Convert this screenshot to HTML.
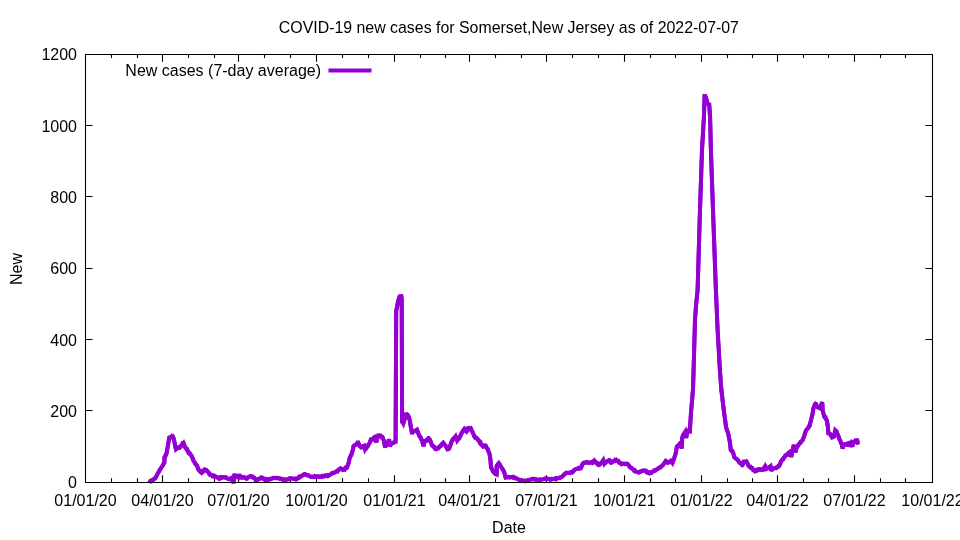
<!DOCTYPE html>
<html><head><meta charset="utf-8"><style>
html,body{margin:0;padding:0;background:#fff;width:960px;height:540px;overflow:hidden}
svg{display:block;will-change:transform}
text{font-family:"Liberation Sans",sans-serif;font-size:16px;fill:#000}
</style></head><body>
<svg width="960" height="540" viewBox="0 0 960 540">
<rect width="960" height="540" fill="#fff"/>
<path d="M86 410.5h6.5M932 410.5h-6.5M86 339.5h6.5M932 339.5h-6.5M86 268.5h6.5M932 268.5h-6.5M86 196.5h6.5M932 196.5h-6.5M86 125.5h6.5M932 125.5h-6.5M162.5 482V475.3M162.5 55V61.7M238.5 482V475.3M238.5 55V61.7M316.5 482V475.3M316.5 55V61.7M394.5 482V475.3M394.5 55V61.7M469.5 482V475.3M469.5 55V61.7M546.5 482V475.3M546.5 55V61.7M624.5 482V475.3M624.5 55V61.7M701.5 482V475.3M701.5 55V61.7M777.5 482V475.3M777.5 55V61.7M854.5 482V475.3M854.5 55V61.7M111.5 482V478.2M111.5 55V57.9M137.5 482V478.2M137.5 55V57.9M188.5 482V478.2M188.5 55V57.9M214.5 482V478.2M214.5 55V57.9M264.5 482V478.2M264.5 55V57.9M290.5 482V478.2M290.5 55V57.9M342.5 482V478.2M342.5 55V57.9M368.5 482V478.2M368.5 55V57.9M420.5 482V478.2M420.5 55V57.9M445.5 482V478.2M445.5 55V57.9M495.5 482V478.2M495.5 55V57.9M521.5 482V478.2M521.5 55V57.9M572.5 482V478.2M572.5 55V57.9M598.5 482V478.2M598.5 55V57.9M650.5 482V478.2M650.5 55V57.9M675.5 482V478.2M675.5 55V57.9M727.5 482V478.2M727.5 55V57.9M752.5 482V478.2M752.5 55V57.9M803.5 482V478.2M803.5 55V57.9M828.5 482V478.2M828.5 55V57.9M880.5 482V478.2M880.5 55V57.9M905.5 482V478.2M905.5 55V57.9" stroke="#000" stroke-width="1.1" fill="none"/>
<path d="M149.2,482.6 151.0,480.6 153.7,479.4 155.5,478.0 156.8,475.3 158.6,472.2 160.4,469.1 162.6,465.6 164.4,462.4 164.5,457.5 166.5,453.5 167.5,448.0 168.5,442.0 169.3,437.6 171.0,437.1 172.7,436.4 174.0,439.5 175.0,445.0 176.0,449.5 178.5,447.5 181.0,446.0 183.5,443.0 185.0,447.0 187.0,449.0 188.0,452.0 190.5,454.5 192.0,457.0 194.0,461.5 196.0,464.5 197.1,466.0 198.6,469.7 201.6,472.7 203.4,470.4 205.3,469.7 207.9,471.6 210.1,474.9 213.0,475.6 216.0,476.7 219.0,478.6 221.9,477.1 224.9,477.1 227.9,478.6 230.8,479.5 232.2,476.5 233.6,483.3 234.4,475.5 236.5,475.8 238.4,477.2 239.3,474.2 240.3,477.6 243.4,477.1 246.4,478.6 249.3,476.7 250.8,476.0 253.8,477.9 255.8,479.8 256.4,482.2 257.2,479.5 259.0,479.0 261.6,477.5 265.0,479.3 268.7,479.7 271.6,478.6 274.6,477.9 278.3,478.2 282.0,479.3 285.7,479.7 287.9,479.3 290.1,478.2 293.1,478.6 296.1,479.3 298.3,477.9 300.5,476.4 302.7,475.3 305.0,474.1 307.2,475.3 310.1,476.4 313.9,476.7 317.6,476.7 321.3,476.4 325.0,476.0 328.7,475.6 330.9,474.2 334.7,472.3 337.6,471.2 340.5,468.3 343.4,469.7 346.8,467.8 348.7,462.7 349.7,457.9 351.6,454.0 353.0,449.2 353.5,446.3 355.9,444.4 358.3,442.9 359.8,446.3 361.7,447.3 364.1,445.8 365.1,449.7 367.0,446.8 369.4,443.4 370.9,439.6 373.3,439.1 374.7,437.6 376.1,442.4 378.1,435.7 380.0,435.8 382.0,436.7 383.8,440.2 385.1,447.3 386.4,444.7 388.2,442.0 389.1,439.3 390.0,446.4 391.3,443.8 393.1,442.9 395.6,442.0 396.2,311.0 398.2,301.0 399.6,296.5 401.3,296.3 401.7,299.5 402.1,421.5 403.3,423.6 405.9,414.7 407.7,415.1 409.6,419.6 410.7,426.2 411.8,432.1 414.0,431.4 417.0,429.6 418.4,433.6 420.7,437.5 422.2,440.5 423.4,446.2 424.6,441.5 426.2,440.3 428.1,438.4 430.2,440.2 431.8,444.9 433.9,447.0 435.9,449.0 438.5,448.0 441.1,445.4 443.2,442.8 445.8,445.9 447.3,449.0 449.4,448.0 451.5,441.8 453.6,438.7 455.6,436.1 457.2,440.7 459.8,437.1 462.4,431.9 464.4,428.8 466.5,431.4 468.1,428.3 470.7,428.3 472.7,432.4 474.8,437.1 476.9,438.1 478.6,440.4 481.2,444.5 483.3,446.6 485.3,445.6 487.4,448.7 489.5,453.9 490.5,460.1 491.0,467.3 493.1,471.5 495.7,474.1 496.7,474.6 496.7,465.8 498.8,463.2 501.4,467.3 504.0,471.5 505.6,477.5 508.1,476.9 513.3,476.9 517.5,479.0 521.6,480.6 525.3,481.1 528.9,480.1 531.0,479.4 534.7,479.0 538.4,480.1 542.8,479.4 546.5,478.6 550.2,479.3 553.9,479.0 557.6,478.2 560.6,477.5 563.6,475.3 566.5,472.7 569.5,472.7 572.4,472.3 575.4,469.3 578.4,468.2 581.0,467.9 582.8,463.8 585.8,462.3 589.5,462.7 592.4,462.7 594.3,460.4 595.4,461.9 596.2,463.0 599.2,464.8 601.4,462.9 603.3,460.0 604.4,464.0 606.6,461.8 609.6,460.3 611.0,462.6 613.3,461.4 616.2,460.0 617.7,461.1 619.9,462.9 622.1,463.8 625.1,464.1 627.7,464.1 630.3,467.5 633.3,469.7 636.2,471.6 639.2,472.3 642.1,470.8 645.1,470.8 648.1,472.7 651.0,473.0 654.0,470.4 657.7,469.0 660.7,467.1 664.0,463.6 665.8,460.9 668.0,462.7 670.7,460.9 672.4,463.1 674.2,458.2 675.6,453.8 676.9,446.7 678.7,445.3 680.4,443.1 681.8,448.4 682.2,437.8 683.1,435.1 685.3,431.6 686.2,437.8 687.6,430.7 689.3,429.8 689.8,433.3 690.2,425.0 691.0,412.7 693.0,389.3 693.6,370.0 695.0,319.6 696.1,304.8 697.6,290.0 700.0,210.0 702.0,150.0 703.9,117.4 704.6,96.0 705.2,96.0 706.4,99.2 707.5,104.0 709.2,104.5 710.1,117.4 710.9,150.0 713.0,210.0 715.9,290.0 717.6,330.0 719.9,370.0 721.3,389.3 723.7,409.5 725.1,420.0 726.1,427.3 728.2,433.5 729.8,441.8 730.8,450.1 732.9,452.1 734.4,457.3 737.6,459.9 740.1,463.0 742.7,464.6 743.8,461.5 746.4,461.5 748.4,465.6 751.6,468.2 755.2,471.3 758.3,469.3 761.4,469.8 763.5,469.5 765.2,466.2 766.5,469.0 768.5,468.0 770.6,466.2 771.3,471.0 772.5,468.5 775.5,468.0 777.5,467.0 779.5,465.5 781.0,461.5 782.5,459.5 784.5,457.0 787.0,454.5 789.0,452.5 790.7,451.3 791.2,457.0 793.8,444.9 795.3,452.1 796.9,447.0 800.0,443.3 802.6,440.2 804.1,436.4 806.1,430.2 809.3,426.6 810.8,420.9 812.4,414.7 813.4,408.4 815.5,404.3 817.6,406.9 820.1,408.4 822.2,402.2 822.7,410.5 824.3,416.7 826.9,420.4 827.9,427.1 828.4,433.3 830.0,433.9 832.1,437.5 834.1,436.4 835.2,430.2 836.0,431.0 837.4,433.8 838.9,437.6 840.3,441.0 841.8,443.9 842.5,448.5 843.7,444.9 845.6,444.4 847.6,443.4 848.1,446.5 849.0,444.4 850.9,442.4 852.4,446.8 852.9,442.4 854.8,441.5 855.5,440.5 857.2,440.5 858.0,444.5" fill="none" stroke="#9400d3" stroke-width="4" stroke-linejoin="miter" stroke-miterlimit="3"/><path d="M149.2,482.6 149.8,481.8 150.4,480.7 151.0,480.6 151.7,480.7 152.4,479.8 153.0,479.5 153.7,479.4 154.3,478.6 154.9,478.5 155.5,478.0 156.2,476.2 156.8,475.3 157.4,473.8 158.0,473.1 158.6,472.2 159.2,471.3 159.8,469.7 160.4,469.1 161.1,468.0 161.9,466.6 162.6,465.6 163.2,465.2 163.8,462.8 164.4,462.4 164.5,457.5 165.2,457.0 165.8,454.7 166.5,453.5 167.5,448.0 168.5,442.0 169.3,437.6 169.9,437.4 170.4,436.5 171.0,437.1 171.6,437.3 172.1,436.1 172.7,436.4 173.3,437.6 174.0,439.5 175.0,445.0 176.0,449.5 176.8,447.9 177.7,447.9 178.5,447.5 179.3,447.9 180.2,447.4 181.0,446.0 181.8,445.5 182.7,443.0 183.5,443.0 185.0,447.0 185.7,448.5 186.3,449.0 187.0,449.0 188.0,452.0 188.8,453.3 189.7,453.1 190.5,454.5 191.2,455.1 192.0,457.0 192.7,458.4 193.3,460.6 194.0,461.5 194.7,462.6 195.3,463.9 196.0,464.5 196.6,464.9 197.1,466.0 197.8,467.9 198.6,469.7 199.3,470.7 200.1,471.6 200.8,472.4 201.6,472.7 202.2,471.6 202.8,471.7 203.4,470.4 204.0,469.8 204.7,470.4 205.3,469.7 206.0,470.3 206.6,470.2 207.2,471.2 207.9,471.6 208.6,472.7 209.4,474.4 210.1,474.9 210.8,474.5 211.6,474.8 212.3,476.0 213.0,475.6 213.8,476.3 214.5,475.7 215.2,476.1 216.0,476.7 216.8,477.2 217.5,477.2 218.2,477.9 219.0,478.6 219.7,477.7 220.4,478.1 221.2,477.0 221.9,477.1 222.7,477.7 223.4,477.6 224.2,477.5 224.9,477.1 225.7,477.8 226.4,477.7 227.2,478.4 227.9,478.6 228.6,479.1 229.4,479.0 230.1,478.8 230.8,479.5 231.5,478.2 232.2,476.5 233.6,483.3 234.4,475.5 235.1,475.4 235.8,475.8 236.5,475.8 237.1,476.2 237.8,477.3 238.4,477.2 239.3,474.2 240.3,477.6 241.1,477.1 241.9,477.7 242.6,477.5 243.4,477.1 244.2,477.5 244.9,477.3 245.7,477.8 246.4,478.6 247.1,478.7 247.9,477.3 248.6,476.8 249.3,476.7 250.1,476.1 250.8,476.0 251.6,476.5 252.3,477.0 253.1,476.8 253.8,477.9 254.5,477.9 255.1,479.2 255.8,479.8 256.4,482.2 257.2,479.5 257.8,479.0 258.4,479.3 259.0,479.0 259.6,479.0 260.3,477.8 261.0,477.9 261.6,477.5 262.3,477.7 263.0,478.6 263.6,479.1 264.3,478.8 265.0,479.3 265.7,479.1 266.5,479.9 267.2,479.1 268.0,479.4 268.7,479.7 269.4,479.3 270.1,478.8 270.9,479.1 271.6,478.6 272.4,478.4 273.1,477.9 273.9,478.0 274.6,477.9 275.3,478.2 276.1,477.8 276.8,477.6 277.6,478.1 278.3,478.2 279.0,478.1 279.8,478.8 280.5,478.5 281.3,478.7 282.0,479.3 282.7,479.8 283.5,479.3 284.2,479.3 285.0,479.7 285.7,479.7 286.4,479.8 287.2,479.6 287.9,479.3 288.6,479.3 289.4,478.3 290.1,478.2 290.9,478.2 291.6,478.2 292.4,478.5 293.1,478.6 293.9,478.9 294.6,479.1 295.4,478.6 296.1,479.3 296.8,478.7 297.6,478.6 298.3,477.9 299.0,476.8 299.8,477.2 300.5,476.4 301.2,476.3 302.0,475.5 302.7,475.3 303.5,474.8 304.2,474.2 305.0,474.1 305.7,474.8 306.5,474.9 307.2,475.3 307.9,475.3 308.6,475.3 309.4,475.9 310.1,476.4 310.9,477.0 311.6,476.7 312.4,476.7 313.1,477.2 313.9,476.7 314.6,476.1 315.4,476.8 316.1,476.3 316.9,476.6 317.6,476.7 318.3,476.2 319.1,476.4 319.8,477.0 320.6,476.7 321.3,476.4 322.0,476.7 322.8,475.7 323.5,475.9 324.3,476.4 325.0,476.0 325.7,475.3 326.5,475.5 327.2,475.2 328.0,476.1 328.7,475.6 329.4,474.8 330.2,474.6 330.9,474.2 331.7,473.2 332.4,472.9 333.2,473.1 333.9,473.1 334.7,472.3 335.4,471.8 336.1,471.5 336.9,470.9 337.6,471.2 338.3,469.9 339.1,469.3 339.8,468.6 340.5,468.3 341.2,468.7 341.9,468.8 342.7,469.9 343.4,469.7 344.1,469.0 344.8,469.4 345.4,468.0 346.1,468.2 346.8,467.8 348.7,462.7 349.7,457.9 350.3,456.7 351.0,455.6 351.6,454.0 353.0,449.2 353.5,446.3 354.3,445.5 355.1,445.1 355.9,444.4 356.7,444.4 357.5,442.7 358.3,442.9 359.1,444.7 359.8,446.3 360.4,446.8 361.1,447.5 361.7,447.3 362.5,446.2 363.3,446.1 364.1,445.8 365.1,449.7 365.7,447.9 366.4,448.1 367.0,446.8 367.8,446.4 368.6,444.2 369.4,443.4 370.9,439.6 371.7,440.1 372.5,439.6 373.3,439.1 374.0,437.4 374.7,437.6 376.1,442.4 378.1,435.7 378.7,435.7 379.4,435.4 380.0,435.8 380.7,435.7 381.3,437.0 382.0,436.7 382.6,437.1 383.2,439.2 383.8,440.2 385.1,447.3 385.8,445.1 386.4,444.7 387.0,443.0 387.6,443.8 388.2,442.0 389.1,439.3 390.0,446.4 390.6,444.3 391.3,443.8 391.9,442.9 392.5,444.1 393.1,442.9 393.9,442.2 394.8,441.7 395.6,442.0 396.2,311.0 398.2,301.0 399.6,296.5 400.2,296.4 400.7,296.4 401.3,296.3 401.7,299.5 402.1,421.5 402.7,421.6 403.3,423.6 405.9,414.7 406.5,414.8 407.1,414.4 407.7,415.1 408.3,415.9 409.0,417.4 409.6,419.6 410.7,426.2 411.8,432.1 412.5,432.4 413.3,431.1 414.0,431.4 414.8,431.1 415.5,429.9 416.2,431.2 417.0,429.6 418.4,433.6 419.2,436.0 419.9,437.1 420.7,437.5 421.4,439.8 422.2,440.5 423.4,446.2 424.6,441.5 425.4,441.0 426.2,440.3 426.8,440.6 427.5,439.3 428.1,438.4 428.8,438.3 429.5,440.1 430.2,440.2 431.8,444.9 432.5,446.3 433.2,445.4 433.9,447.0 434.6,447.1 435.2,448.9 435.9,449.0 436.5,449.2 437.2,448.6 437.9,447.8 438.5,448.0 439.1,446.9 439.8,446.2 440.5,447.0 441.1,445.4 441.8,444.0 442.5,443.4 443.2,442.8 443.9,443.9 444.5,444.7 445.1,445.2 445.8,445.9 446.6,447.7 447.3,449.0 448.0,449.2 448.7,449.1 449.4,448.0 451.5,441.8 452.2,440.0 452.9,438.8 453.6,438.7 454.3,438.7 454.9,437.8 455.6,436.1 457.2,440.7 457.9,439.5 458.5,438.7 459.1,438.4 459.8,437.1 460.4,435.6 461.1,433.7 461.8,432.6 462.4,431.9 463.1,430.4 463.7,430.0 464.4,428.8 465.1,428.9 465.8,431.1 466.5,431.4 467.3,430.9 468.1,428.3 468.8,428.0 469.4,428.5 470.1,428.6 470.7,428.3 471.4,430.3 472.0,431.3 472.7,432.4 473.4,434.0 474.1,436.0 474.8,437.1 475.5,436.4 476.2,438.7 476.9,438.1 477.5,439.7 478.0,440.0 478.6,440.4 479.2,440.8 479.9,442.7 480.6,442.5 481.2,444.5 481.9,445.0 482.6,445.4 483.3,446.6 484.0,446.4 484.6,445.5 485.3,445.6 486.0,445.9 486.7,448.2 487.4,448.7 488.1,450.0 488.8,452.3 489.5,453.9 490.5,460.1 491.0,467.3 491.7,468.0 492.4,470.2 493.1,471.5 493.8,472.5 494.4,473.2 495.1,473.2 495.7,474.1 496.2,473.9 496.7,474.6 496.7,465.8 497.4,465.1 498.1,463.8 498.8,463.2 499.4,463.9 500.1,464.8 500.8,466.1 501.4,467.3 502.0,468.6 502.7,469.3 503.4,470.7 504.0,471.5 505.6,477.5 506.4,477.6 507.3,477.5 508.1,476.9 508.8,477.0 509.6,477.5 510.3,476.9 511.1,476.9 511.8,477.1 512.6,477.5 513.3,476.9 514.1,477.6 515.0,478.2 515.8,477.8 516.7,478.5 517.5,479.0 518.3,479.6 519.1,479.9 520.0,480.3 520.8,480.0 521.6,480.6 522.3,480.5 523.1,480.7 523.8,480.8 524.6,480.5 525.3,481.1 526.0,480.8 526.7,480.9 527.5,480.8 528.2,480.0 528.9,480.1 529.6,480.0 530.3,479.9 531.0,479.4 531.7,478.9 532.5,478.8 533.2,478.8 534.0,479.3 534.7,479.0 535.4,479.7 536.2,479.3 536.9,479.4 537.7,480.0 538.4,480.1 539.1,479.8 539.9,479.3 540.6,479.5 541.3,479.8 542.1,479.5 542.8,479.4 543.5,479.1 544.3,479.0 545.0,478.5 545.8,479.1 546.5,478.6 547.2,478.6 548.0,479.1 548.7,479.1 549.5,479.6 550.2,479.3 550.9,479.6 551.7,478.8 552.4,479.1 553.2,478.8 553.9,479.0 554.6,479.1 555.4,478.4 556.1,479.1 556.9,478.0 557.6,478.2 558.4,478.0 559.1,477.8 559.9,478.1 560.6,477.5 561.4,477.1 562.1,476.9 562.9,475.6 563.6,475.3 564.3,474.1 565.0,473.6 565.8,472.8 566.5,472.7 567.2,473.0 568.0,472.9 568.8,473.0 569.5,472.7 570.2,473.0 571.0,472.0 571.7,471.8 572.4,472.3 573.1,471.8 573.9,470.1 574.6,469.8 575.4,469.3 576.1,469.1 576.9,469.0 577.6,468.6 578.4,468.2 579.0,468.8 579.7,468.7 580.4,467.7 581.0,467.9 581.6,466.3 582.2,464.5 582.8,463.8 583.5,462.8 584.3,463.0 585.0,462.9 585.8,462.3 586.5,462.1 587.3,462.1 588.0,462.8 588.8,462.9 589.5,462.7 590.2,462.7 591.0,462.1 591.7,462.2 592.4,462.7 593.0,461.6 593.7,461.7 594.3,460.4 594.8,461.8 595.4,461.9 596.2,463.0 597.0,462.8 597.7,464.6 598.5,465.0 599.2,464.8 599.9,464.6 600.7,463.1 601.4,462.9 602.0,462.7 602.7,461.5 603.3,460.0 604.4,464.0 605.1,462.7 605.9,461.8 606.6,461.8 607.4,461.2 608.1,461.2 608.9,460.1 609.6,460.3 610.3,462.2 611.0,462.6 611.8,462.5 612.5,461.8 613.3,461.4 614.0,461.0 614.8,460.1 615.5,460.7 616.2,460.0 617.0,460.9 617.7,461.1 618.4,461.0 619.2,462.8 619.9,462.9 620.6,463.0 621.4,464.2 622.1,463.8 622.9,463.6 623.6,463.5 624.4,463.6 625.1,464.1 625.8,463.8 626.4,463.5 627.1,463.6 627.7,464.1 628.4,464.9 629.0,465.9 629.6,466.7 630.3,467.5 631.0,467.5 631.8,467.9 632.5,468.7 633.3,469.7 634.0,470.7 634.8,470.2 635.5,471.4 636.2,471.6 637.0,471.8 637.7,472.1 638.5,472.6 639.2,472.3 639.9,471.6 640.7,471.8 641.4,471.2 642.1,470.8 642.9,470.6 643.6,470.7 644.4,470.4 645.1,470.8 645.9,470.7 646.6,472.3 647.4,472.4 648.1,472.7 648.8,472.4 649.5,473.2 650.3,472.5 651.0,473.0 651.8,472.6 652.5,471.8 653.2,471.5 654.0,470.4 654.7,470.0 655.5,470.5 656.2,469.9 657.0,469.2 657.7,469.0 658.5,468.0 659.2,467.7 660.0,467.0 660.7,467.1 661.5,466.3 662.4,465.8 663.2,464.8 664.0,463.6 664.6,462.9 665.2,461.7 665.8,460.9 666.5,461.2 667.3,462.6 668.0,462.7 668.7,462.5 669.4,462.1 670.0,461.4 670.7,460.9 671.3,462.1 671.8,462.5 672.4,463.1 674.2,458.2 675.6,453.8 676.9,446.7 677.5,445.8 678.1,445.5 678.7,445.3 679.3,444.2 679.8,443.4 680.4,443.1 681.8,448.4 682.2,437.8 683.1,435.1 683.8,434.8 684.6,433.2 685.3,431.6 686.2,437.8 687.6,430.7 688.2,430.7 688.7,430.0 689.3,429.8 689.8,433.3 690.2,425.0 691.0,412.7 693.0,389.3 693.6,370.0 695.0,319.6 696.1,304.8 697.6,290.0 700.0,210.0 702.0,150.0 703.9,117.4 704.6,96.0 705.2,96.0 706.4,99.2 707.5,104.0 708.1,104.2 708.6,104.3 709.2,104.5 710.1,117.4 710.9,150.0 713.0,210.0 715.9,290.0 717.6,330.0 719.9,370.0 721.3,389.3 723.7,409.5 725.1,420.0 726.1,427.3 728.2,433.5 729.8,441.8 730.8,450.1 731.5,450.7 732.2,450.7 732.9,452.1 734.4,457.3 735.2,457.9 736.0,458.7 736.8,459.0 737.6,459.9 738.4,460.9 739.3,462.7 740.1,463.0 740.8,464.0 741.4,463.2 742.1,464.9 742.7,464.6 743.8,461.5 744.4,462.0 745.1,462.0 745.8,462.0 746.4,461.5 747.1,462.4 747.7,463.7 748.4,465.6 749.2,466.5 750.0,467.4 750.8,467.0 751.6,468.2 752.3,468.1 753.0,470.1 753.8,470.6 754.5,470.4 755.2,471.3 756.0,471.2 756.8,470.0 757.5,470.3 758.3,469.3 759.1,469.1 759.8,469.7 760.6,469.3 761.4,469.8 762.1,469.9 762.8,469.2 763.5,469.5 764.1,468.6 764.6,466.7 765.2,466.2 765.9,467.5 766.5,469.0 767.2,468.1 767.8,468.2 768.5,468.0 769.2,466.9 769.9,466.6 770.6,466.2 771.3,471.0 771.9,469.7 772.5,468.5 773.2,468.6 774.0,468.4 774.8,468.2 775.5,468.0 776.2,468.2 776.8,467.2 777.5,467.0 778.2,466.0 778.8,466.3 779.5,465.5 781.0,461.5 781.8,460.3 782.5,459.5 783.2,459.4 783.8,457.7 784.5,457.0 785.3,455.3 786.2,455.1 787.0,454.5 787.7,454.6 788.3,453.1 789.0,452.5 789.6,452.7 790.1,451.5 790.7,451.3 791.2,457.0 793.8,444.9 795.3,452.1 796.9,447.0 797.7,446.3 798.5,444.3 799.2,443.6 800.0,443.3 800.6,441.7 801.3,441.6 802.0,440.6 802.6,440.2 804.1,436.4 806.1,430.2 806.9,429.4 807.7,428.7 808.5,426.9 809.3,426.6 810.8,420.9 812.4,414.7 813.4,408.4 814.1,406.4 814.8,404.4 815.5,404.3 816.2,404.2 816.9,405.7 817.6,406.9 818.4,408.4 819.3,407.1 820.1,408.4 822.2,402.2 822.7,410.5 824.3,416.7 824.9,417.4 825.6,417.3 826.2,419.7 826.9,420.4 827.9,427.1 828.4,433.3 829.2,433.4 830.0,433.9 830.7,434.7 831.4,436.1 832.1,437.5 832.8,436.7 833.4,436.6 834.1,436.4 835.2,430.2 836.0,431.0 836.7,431.7 837.4,433.8 838.9,437.6 839.6,439.7 840.3,441.0 841.0,443.3 841.8,443.9 842.5,448.5 843.7,444.9 844.3,445.5 845.0,444.3 845.6,444.4 846.3,443.1 846.9,444.3 847.6,443.4 848.1,446.5 849.0,444.4 849.6,443.7 850.3,443.2 850.9,442.4 852.4,446.8 852.9,442.4 853.5,442.4 854.2,442.4 854.8,441.5 855.5,440.5 856.1,440.5 856.6,440.4 857.2,440.5 858.0,444.5" fill="none" stroke="#9400d3" stroke-width="4" stroke-linejoin="miter" stroke-miterlimit="1.6"/>
<path d="M85.5 54.5H932.5V482.5H85.5Z" fill="none" stroke="#000" stroke-width="1.1"/>
<path d="M328.5 70.4H371.5" stroke="#9400d3" stroke-width="4"/>
<text x="77" y="488.30" text-anchor="end">0</text><text x="77" y="416.97" text-anchor="end">200</text><text x="77" y="345.63" text-anchor="end">400</text><text x="77" y="274.30" text-anchor="end">600</text><text x="77" y="202.97" text-anchor="end">800</text><text x="77" y="131.63" text-anchor="end">1000</text><text x="77" y="60.30" text-anchor="end">1200</text><text x="85.5" y="506" text-anchor="middle">01/01/20</text><text x="162.5" y="506" text-anchor="middle">04/01/20</text><text x="238.5" y="506" text-anchor="middle">07/01/20</text><text x="316.5" y="506" text-anchor="middle">10/01/20</text><text x="394.5" y="506" text-anchor="middle">01/01/21</text><text x="469.5" y="506" text-anchor="middle">04/01/21</text><text x="546.5" y="506" text-anchor="middle">07/01/21</text><text x="624.5" y="506" text-anchor="middle">10/01/21</text><text x="701.5" y="506" text-anchor="middle">01/01/22</text><text x="777.5" y="506" text-anchor="middle">04/01/22</text><text x="854.5" y="506" text-anchor="middle">07/01/22</text><text x="932.5" y="506" text-anchor="middle">10/01/22</text><text x="508.9" y="33" text-anchor="middle" style="font-size:15.9px">COVID-19 new cases for Somerset,New Jersey as of 2022-07-07</text><text x="509" y="533" text-anchor="middle">Date</text><text transform="translate(22,269) rotate(-90)" text-anchor="middle">New</text><text x="321" y="76" text-anchor="end">New cases (7-day average)</text>
</svg>
</body></html>
